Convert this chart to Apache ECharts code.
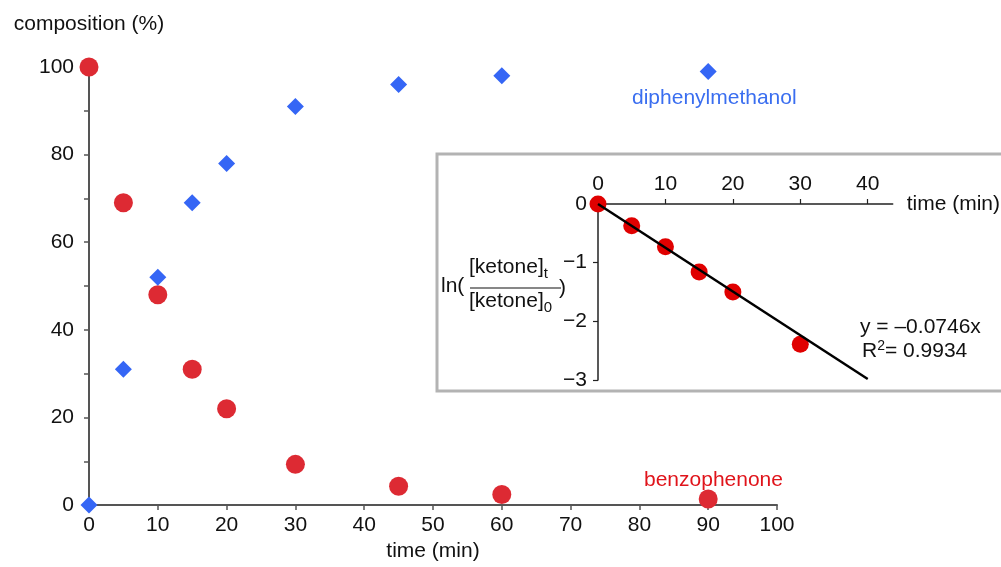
<!DOCTYPE html>
<html>
<head>
<meta charset="utf-8">
<script src="https://cdn.jsdelivr.net/npm/echarts@6/dist/echarts.min.js"></script>
<style>
  html, body { margin: 0; padding: 0; background: #fff; }
  #chart { width: 1001px; height: 567px; }
</style>
</head>
<body>
<div id="chart"></div>
<script>
// main chart data (time in min, composition in %)
var times = [0, 5, 10, 15, 20, 30, 45, 60, 90];
var benzophenone = [100, 69, 48, 31, 22, 9.3, 4.3, 2.4, 1.4];
var diphenylmethanol = [0, 31, 52, 69, 78, 91, 96, 98, 99];

// inset: ln([ketone]t/[ketone]0) vs time
var insetTimes = [0, 5, 10, 15, 20, 30];
var insetLn = [0, -0.37, -0.73, -1.16, -1.5, -2.39];
var fitLine = [[0, 0], [40, -2.984]];

var mainXTicks = [0, 10, 20, 30, 40, 50, 60, 70, 80, 90, 100];
var insetXTicks = [0, 10, 20, 30, 40];

var FONT = 'Liberation Sans';
var FS = 21;

document.addEventListener("DOMContentLoaded", function () {
    var chartDom = document.getElementById('chart');
    var myChart = echarts.init(chartDom);

    function pairs(xs, ys) {
        return xs.map(function (x, i) { return [x, ys[i]]; });
    }
    function minus(v) {
        return String(v).replace('-', '\u2212');
    }

    var option = {
        animation: false,
        textStyle: { fontFamily: FONT },
        grid: [
            { left: 89, top: 67, width: 688, height: 441 },
            { left: 598, top: 204, width: 297, height: 176 }
        ],
        xAxis: [
            {
                gridIndex: 0, type: 'value', min: 0, max: 100, interval: 10,
                name: 'time (min)', nameLocation: 'middle', nameGap: 34,
                nameTextStyle: { fontSize: FS, color: '#111', fontFamily: FONT },
                axisLine: { lineStyle: { color: '#555', width: 2 } },
                axisTick: { show: true, length: 5, lineStyle: { color: '#555', width: 1.5 } },
                axisLabel: { fontSize: FS, color: '#111', margin: 10, fontFamily: FONT,
                    customValues: mainXTicks },
                splitLine: { show: false }
            },
            {
                gridIndex: 1, type: 'value', min: 0, max: 43.7, position: 'top', z: 10,
                name: 'time (min)', nameLocation: 'end', nameGap: 14,
                nameTextStyle: { fontSize: FS, color: '#111', fontFamily: FONT, padding: [0, 0, 40, 0] },
                axisLine: { onZero: false, lineStyle: { color: '#222', width: 1.5 } },
                axisTick: { show: true, length: 5, customValues: insetXTicks, lineStyle: { color: '#222', width: 1.2 } },
                axisLabel: { fontSize: FS, color: '#111', margin: 9, fontFamily: FONT,
                    customValues: insetXTicks },
                splitLine: { show: false }
            }
        ],
        yAxis: [
            {
                gridIndex: 0, type: 'value', min: 0, max: 100, interval: 10,
                name: 'composition (%)', nameLocation: 'end', nameGap: 32,
                nameTextStyle: { fontSize: FS, color: '#111', fontFamily: FONT },
                axisLine: { show: true, lineStyle: { color: '#555', width: 2 } },
                axisTick: { show: true, length: 5, lineStyle: { color: '#555', width: 1.5 } },
                axisLabel: {
                    fontSize: FS, color: '#111', margin: 15, fontFamily: FONT,
                    formatter: function (v) { return v % 20 === 0 ? String(v) : ''; }
                },
                splitLine: { show: false }
            },
            {
                gridIndex: 1, type: 'value', min: -3, max: 0, interval: 1, z: 10,
                axisLine: { show: true, onZero: false, lineStyle: { color: '#222', width: 1.5 } },
                axisTick: { show: true, length: 5, lineStyle: { color: '#222', width: 1.2 } },
                axisLabel: { fontSize: FS, color: '#111', margin: 11, fontFamily: FONT, formatter: minus },
                splitLine: { show: false }
            }
        ],
        graphic: [
            {
                type: 'rect', z: 1,
                shape: { x: 437, y: 154, width: 580, height: 237 },
                style: { fill: '#fff', stroke: '#b3b3b3', lineWidth: 3 }
            },
            {
                type: 'text', z: 20, left: 632, top: 88,
                style: { text: 'diphenylmethanol', fontSize: FS, fill: '#3a6ef0', fontFamily: FONT }
            },
            {
                type: 'text', z: 20, left: 644, top: 470,
                style: { text: 'benzophenone', fontSize: FS, fill: '#e0141b', fontFamily: FONT }
            },
            {
                type: 'text', z: 20, left: 441, top: 276,
                style: { text: 'ln(', fontSize: FS, fill: '#111', fontFamily: FONT }
            },
            {
                type: 'text', z: 20, left: 469, top: 257,
                style: {
                    text: '{a|[ketone]}{s|t}', fill: '#111', fontFamily: FONT,
                    rich: { a: { fontSize: FS, fontFamily: FONT }, s: { fontSize: 15, padding: [12, 0, 0, 0], fontFamily: FONT } }
                }
            },
            {
                type: 'line', z: 20,
                shape: { x1: 470, y1: 288, x2: 561, y2: 288 },
                style: { stroke: '#111', lineWidth: 1.2 }
            },
            {
                type: 'text', z: 20, left: 469, top: 291,
                style: {
                    text: '{a|[ketone]}{s|0}', fill: '#111', fontFamily: FONT,
                    rich: { a: { fontSize: FS, fontFamily: FONT }, s: { fontSize: 15, padding: [12, 0, 0, 0], fontFamily: FONT } }
                }
            },
            {
                type: 'text', z: 20, left: 559, top: 278,
                style: { text: ')', fontSize: FS, fill: '#111', fontFamily: FONT }
            },
            {
                type: 'text', z: 20, left: 860, top: 317,
                style: { text: 'y = \u20130.0746x', fontSize: FS, fill: '#111', fontFamily: FONT }
            },
            {
                type: 'text', z: 20, left: 862, top: 339,
                style: {
                    text: '{a|R}{s|2}{a|= 0.9934}', fill: '#111', fontFamily: FONT,
                    rich: { a: { fontSize: FS, fontFamily: FONT }, s: { fontSize: 14, padding: [0, 0, 10, 0], fontFamily: FONT } }
                }
            }
        ],
        series: [
            {
                name: 'benzophenone', type: 'scatter', xAxisIndex: 0, yAxisIndex: 0,
                symbol: 'circle', symbolSize: 19, z: 3,
                itemStyle: { color: '#dd2a33', opacity: 1 },
                data: pairs(times, benzophenone)
            },
            {
                name: 'diphenylmethanol', type: 'scatter', xAxisIndex: 0, yAxisIndex: 0,
                symbol: 'diamond', symbolSize: [17, 17], z: 3,
                itemStyle: { color: '#3566f5', opacity: 1 },
                data: pairs(times, diphenylmethanol)
            },
            {
                name: 'fit', type: 'line', xAxisIndex: 1, yAxisIndex: 1,
                symbol: 'none', z: 15,
                lineStyle: { color: '#000', width: 2.5 },
                data: fitLine
            },
            {
                name: 'ln', type: 'scatter', xAxisIndex: 1, yAxisIndex: 1,
                symbol: 'circle', symbolSize: 17, z: 14,
                itemStyle: { color: '#e00000', opacity: 1 },
                data: pairs(insetTimes, insetLn)
            }
        ]
    };

    myChart.setOption(option);
});
</script>
</body>
</html>
